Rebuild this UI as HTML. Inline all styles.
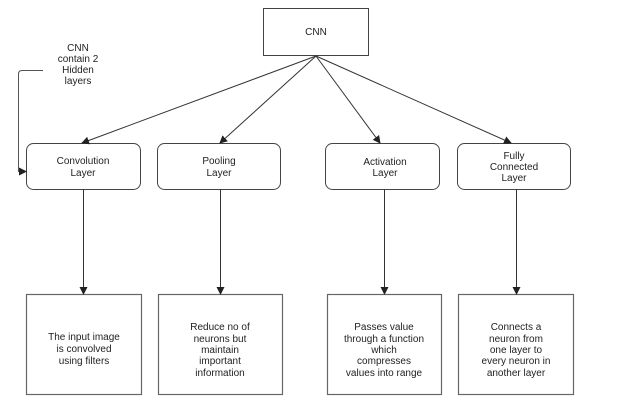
<!DOCTYPE html>
<html><head><style>
body{margin:0;background:#fff;}
svg{display:block;}
text{font-family:"Liberation Sans",sans-serif;font-size:10px;fill:#222;text-anchor:middle;}
</style></head><body>
<svg width="637" height="410" viewBox="0 0 637 410">
<defs><marker id="a" markerWidth="8" markerHeight="8" refX="7" refY="4" orient="auto" markerUnits="userSpaceOnUse"><path d="M0,0 L8,4 L0,8 z" fill="#222"/></marker></defs>
<g fill="none" stroke="#444" stroke-width="1">
<rect x="263.5" y="8.5" width="105" height="47"/>
<rect x="26.5" y="143.5" width="114" height="46" rx="7"/>
<rect x="157.5" y="143.5" width="123" height="46" rx="7"/>
<rect x="325.5" y="143.5" width="114" height="46" rx="7"/>
<rect x="457.5" y="143.5" width="113" height="46" rx="7"/>
<rect x="26.5" y="294.5" width="115" height="100" stroke="#666" stroke-width="1.2"/>
<rect x="158.5" y="294.5" width="124" height="100" stroke="#666" stroke-width="1.2"/>
<rect x="327.5" y="294.5" width="114" height="100" stroke="#666" stroke-width="1.2"/>
<rect x="458.5" y="294.5" width="115" height="100" stroke="#666" stroke-width="1.2"/>
</g>
<g stroke="#333" stroke-width="1" marker-end="url(#a)">
<line x1="316" y1="56" x2="82" y2="143"/>
<line x1="316" y1="56" x2="220" y2="143"/>
<line x1="316" y1="56" x2="380" y2="143"/>
<line x1="316" y1="56" x2="511" y2="143"/>
<line x1="83.5" y1="189" x2="83.5" y2="294"/>
<line x1="220.5" y1="189" x2="220.5" y2="294"/>
<line x1="384.5" y1="189" x2="384.5" y2="294"/>
<line x1="516.5" y1="189" x2="516.5" y2="294"/>
<path d="M43,70.5 H22 Q18.5,70.5 18.5,74 V171.5 H26" fill="none" stroke="#555"/>
</g>
<text x="316" y="35">CNN</text>
<text x="78" y="51">CNN</text>
<text x="78" y="62">contain 2</text>
<text x="78" y="73">Hidden</text>
<text x="78" y="84">layers</text>
<text x="83" y="164">Convolution</text>
<text x="83" y="176">Layer</text>
<text x="219" y="164">Pooling</text>
<text x="219" y="176">Layer</text>
<text x="385" y="165">Activation</text>
<text x="385" y="176">Layer</text>
<text x="514" y="159">Fully</text>
<text x="514" y="170">Connected</text>
<text x="514" y="181">Layer</text>
<text x="84" y="340">The input image</text>
<text x="84" y="352">is convolved</text>
<text x="84" y="364">using filters</text>
<text x="220" y="330">Reduce no of</text>
<text x="220" y="342">neurons but</text>
<text x="220" y="353">maintain</text>
<text x="220" y="364">important</text>
<text x="220" y="376">information</text>
<text x="384" y="330">Passes value</text>
<text x="384" y="342">through a function</text>
<text x="384" y="353">which</text>
<text x="384" y="364">compresses</text>
<text x="384" y="376">values into range</text>
<text x="516" y="330">Connects a</text>
<text x="516" y="342">neuron from</text>
<text x="516" y="353">one layer to</text>
<text x="516" y="364">every neuron in</text>
<text x="516" y="376">another layer</text>
</svg>
</body></html>
